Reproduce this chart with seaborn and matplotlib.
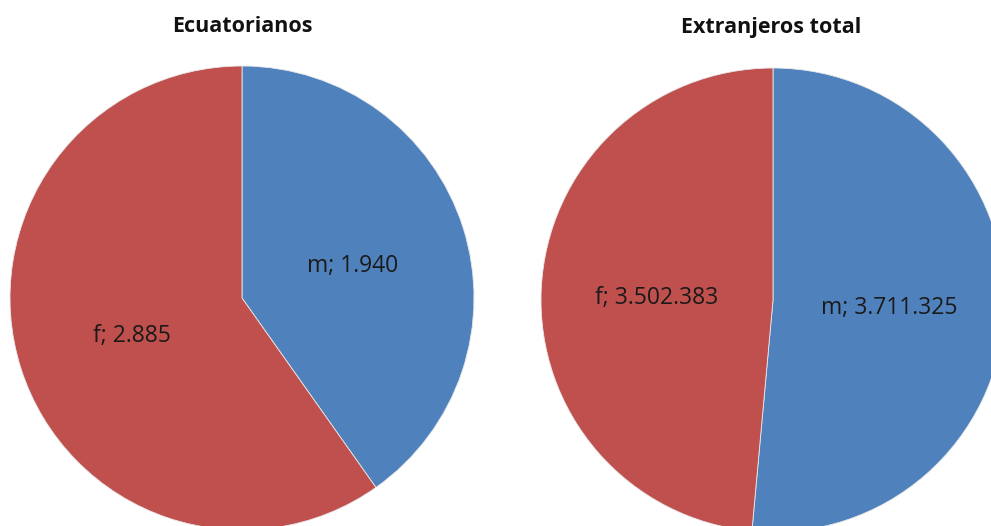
import matplotlib
matplotlib.use("Agg")
import matplotlib.pyplot as plt
import seaborn as sns

sns.set_theme(style="white")
plt.rcParams['font.family'] = ['Open Sans', 'DejaVu Sans']

categories = ["m", "f"]
ecuatorianos = [1940, 2885]
extranjeros = [3711325, 3502383]
label_ecu = ["m; 1.940", "f; 2.885"]
label_ext = ["m; 3.711.325", "f; 3.502.383"]
titles = ["Ecuatorianos", "Extranjeros total"]

colors = ["#4F81BD", "#C0504D"]

W, H = 991, 526
fig = plt.figure(figsize=(W / 100, H / 100), dpi=100)
fig.patch.set_facecolor("white")

def add_pie(cx, cy, r, values, labels):
    ax = fig.add_axes([(cx - r) / W, (H - cy - r) / H, 2 * r / W, 2 * r / H])
    wedges, texts = ax.pie(values, labels=labels, colors=colors, startangle=90,
                           counterclock=False, labeldistance=0.5,
                           wedgeprops=dict(linewidth=0.6, edgecolor="#e8e8e8"),
                           textprops=dict(fontsize=16.5, color="#1a1a1a"))
    for t in texts:
        t.set_ha("center")
        t.set_va("center_baseline")
    ax.set_xlim(-1, 1)
    ax.set_ylim(-1, 1)
    ax.set_aspect("equal")
    ax.axis("off")
    return ax

add_pie(242, 298, 232, ecuatorianos, label_ecu)
add_pie(773, 300, 232, extranjeros, label_ext)

fig.text(242 / W, 1 - 27 / H, titles[0], ha="center", va="center",
         fontsize=15.5, fontweight="bold", color="#111111")
fig.text(771 / W, 1 - 27 / H, titles[1], ha="center", va="center",
         fontsize=15.5, fontweight="bold", color="#111111")

fig.savefig("out.png", dpi=100, facecolor="white")
